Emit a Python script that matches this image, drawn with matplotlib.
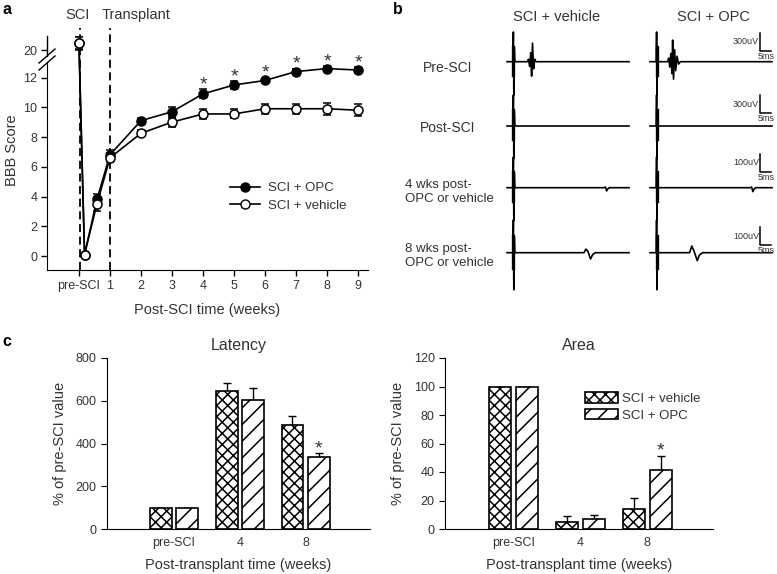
import numpy as np
import matplotlib
matplotlib.use('Agg')
import matplotlib.pyplot as plt
from matplotlib.lines import Line2D
from matplotlib.patches import Patch
from matplotlib.transforms import blended_transform_factory

plt.rcParams['font.family'] = ['Liberation Sans', 'DejaVu Sans']
plt.rcParams['hatch.linewidth'] = 1.1
TXT = '#333333'
plt.rcParams['text.color'] = TXT
plt.rcParams['axes.labelcolor'] = TXT
plt.rcParams['xtick.labelcolor'] = TXT
plt.rcParams['ytick.labelcolor'] = TXT

# ---- panel a : BBB score ----
bbb_weeks = [0, 0.18, 0.58, 1, 2, 3, 4, 5, 6, 7, 8, 9]
bbb_opc = [20.5, 0.1, 3.8, 6.8, 9.1, 9.7, 10.9, 11.5, 11.8, 12.4, 12.6, 12.5]
bbb_opc_err = [0.4, 0.1, 0.4, 0.3, 0.2, 0.35, 0.3, 0.25, 0.2, 0.2, 0.15, 0.2]
bbb_veh = [20.5, 0.1, 3.5, 6.6, 8.25, 9.0, 9.55, 9.55, 9.9, 9.9, 9.9, 9.8]
bbb_veh_err = [0.5, 0.1, 0.5, 0.3, 0.2, 0.3, 0.35, 0.3, 0.35, 0.35, 0.4, 0.4]
bbb_star_weeks = [4, 5, 6, 7, 8, 9]
bbb_xticks = [0, 1, 2, 3, 4, 5, 6, 7, 8, 9]
bbb_xticklabels = ['pre-SCI', '1', '2', '3', '4', '5', '6', '7', '8', '9']
bbb_yticks = [0, 2, 4, 6, 8, 10, 12, 20]
sci_week = 0.05
transplant_week = 1

# ---- panel c : latency / area ----
bar_groups = ['pre-SCI', '4', '8']
lat_veh = [100, 645, 488]
lat_veh_err = [0, 37, 42]
lat_opc = [100, 605, 335]
lat_opc_err = [0, 53, 20]
area_veh = [100, 5, 14]
area_veh_err = [0, 4, 8]
area_opc = [100, 7, 41.5]
area_opc_err = [0, 2.5, 10]
star_group = 2

# ---- panel b : example traces (ms, uV) ----
row_names = ['Pre-SCI', 'Post-SCI', '4 wks post-\nOPC or vehicle', '8 wks post-\nOPC or vehicle']
row_scale_uV = [300, 300, 100, 100]
stim_up_uV = [495, 517, 170, 182]
stim_down_uV = [-560, -540, -185, -206]
veh_resp = [
    ([9.3, 9.8, 10.3, 10.8, 11.2, 11.6, 12.1, 12.6, 13.2], [0, 40, -80, 150, -240, 310, -120, 40, 0]),
    ([], []),
    ([44.2, 44.8, 45.3, 45.9, 46.6], [0, 4, -18, -6, 0]),
    ([35.0, 35.9, 36.8, 38.0, 39.0, 40.2], [0, 20, 8, -35, -10, 0]),
]
opc_resp = [
    ([8.0, 8.5, 9.0, 9.5, 10.0, 10.3, 10.7, 11.2, 11.7, 12.3, 13.0, 13.8],
     [0, 60, -90, 140, -200, 360, -290, 200, -150, 90, -40, 0]),
    ([], []),
    ([45.6, 46.2, 46.8, 47.4, 48.1], [0, 4, -22, -6, 0]),
    ([18.0, 19.0, 20.0, 21.5, 22.5, 24.0], [0, 37, 10, -44, -12, 0]),
]
veh_stim_ms = 2.9
opc_stim_ms = 3.0
trace_len_ms = 55.5
scalebar_ms = 5
scalebar_base_uV = [185, 215, 90, 40]

W, H = 777, 574
fig = plt.figure(figsize=(W / 100, H / 100), dpi=100)


def px_rect(l, t, r, b):
    return [l / W, 1 - b / H, (r - l) / W, (b - t) / H]


# ================= panel a =================
BRK_LO, BRK_HI, BRK_TO = 13.0, 19.5, 13.32


def fwd(y):
    y = np.asarray(y, float)
    return np.where(y <= BRK_LO, y,
                    np.where(y >= BRK_HI, y - (BRK_HI - BRK_TO),
                             BRK_LO + (y - BRK_LO) * (BRK_TO - BRK_LO) / (BRK_HI - BRK_LO)))


def inv(u):
    u = np.asarray(u, float)
    return np.where(u <= BRK_LO, u,
                    np.where(u >= BRK_TO, u + (BRK_HI - BRK_TO),
                             BRK_LO + (u - BRK_LO) * (BRK_HI - BRK_LO) / (BRK_TO - BRK_LO)))


axa = fig.add_axes(px_rect(47, 36, 368, 270))
axa.set_yscale('function', functions=(fwd, inv))
axa.set_ylim(-0.94, 20.97)
axa.set_xlim(-1.03, 9.32)

for xv in (sci_week, transplant_week):
    axa.axvline(xv, ymin=0, ymax=1.034, color='k', lw=1.3, ls=(0, (4.5, 2.5)), clip_on=False, zorder=1)

axa.errorbar(bbb_weeks, bbb_opc, yerr=bbb_opc_err, fmt='-o', color='k', mfc='k', mec='k',
             ms=6.5, mew=1.1, lw=1.2, capsize=3, elinewidth=1, capthick=1, zorder=3,
             label='SCI + OPC')
axa.errorbar(bbb_weeks, bbb_veh, yerr=bbb_veh_err, fmt='-o', color='k', mfc='white', mec='k',
             ms=6.5, mew=1.1, lw=1.2, capsize=3, elinewidth=1, capthick=1, zorder=4,
             label='SCI + vehicle')

for w in bbb_star_weeks:
    i = bbb_weeks.index(w)
    axa.annotate('*', (w, bbb_opc[i] + bbb_opc_err[i]), xytext=(0, 0), textcoords='offset points',
                 ha='center', va='baseline', fontsize=14, color=TXT)

axa.set_xticks(bbb_xticks)
axa.set_xticklabels(bbb_xticklabels)
axa.set_yticks(bbb_yticks)
axa.tick_params(direction='out', length=4, width=1, labelsize=9, pad=3)
axa.spines['top'].set_visible(False)
axa.spines['right'].set_visible(False)
axa.spines['left'].set_bounds(-0.94, 12.98)
blend = blended_transform_factory(axa.transAxes, axa.transData)
axa.plot([0, 0], [19.62, 20.97], color='k', lw=1, transform=blend, clip_on=False)
for yc in (0.9145, 0.8846):
    axa.plot([-0.025, 0.025], [yc - 0.03, yc + 0.03], color='k', lw=1,
             transform=axa.transAxes, clip_on=False)
axa.set_xlabel('Post-SCI time (weeks)', fontsize=10.5, labelpad=8)
fig.text(12 / W, 1 - 150 / H, 'BBB Score', rotation=90, ha='center', va='center', fontsize=10.5)

h_opc = Line2D([], [], color='k', marker='o', mfc='k', mec='k', ms=6.5, lw=1.2)
h_veh = Line2D([], [], color='k', marker='o', mfc='white', mec='k', ms=6.5, lw=1.2)
axa.legend([h_opc, h_veh], ['SCI + OPC', 'SCI + vehicle'], loc='upper left',
           bbox_to_anchor=(0.57, 0.375), frameon=False, fontsize=9.5, handlelength=2.3,
           handletextpad=0.6, labelspacing=0.4, borderpad=0, borderaxespad=0)

fig.text(78 / W, 1 - 15 / H, 'SCI', ha='center', va='center', fontsize=10.5)
fig.text(102 / W, 1 - 15 / H, 'Transplant', ha='left', va='center', fontsize=10.5)

# ================= panel b =================
baselines_px = [61.7, 126, 187.7, 252.7]
half_px = 40
for r in range(4):
    upp = row_scale_uV[r] / 18.0
    for col, (left, stim, resp) in enumerate([(507, veh_stim_ms, veh_resp[r]),
                                                (650, opc_stim_ms, opc_resp[r])]):
        ax = fig.add_axes(px_rect(left, baselines_px[r] - half_px, left + 122, baselines_px[r] + half_px))
        ax.set_xlim(0, trace_len_ms)
        ax.set_ylim(-half_px * upp, half_px * upp)
        ax.axis('off')
        t = [0, stim - 0.2, stim, stim + 0.2, stim + 0.4, stim + 0.7] + resp[0] + [trace_len_ms]
        v = [0, 0, stim_up_uV[r], stim_down_uV[r], stim_up_uV[r] * 0.5, 0] + resp[1] + [0]
        ax.plot(t, v, color='k', lw=1.2, clip_on=False)
        ax.plot([stim, stim], [stim_up_uV[r] * 0.5, stim_down_uV[r] * 0.4], color='k', lw=2.4,
                clip_on=False)
        if col == 1:
            x0 = 50
            y0 = scalebar_base_uV[r]
            ax.plot([x0, x0, x0 + scalebar_ms], [y0 + row_scale_uV[r], y0, y0], color='k', lw=1.1,
                    clip_on=False)
            ax.text(x0 - 0.4, y0 + row_scale_uV[r] * 0.5, '%duV' % row_scale_uV[r], ha='right',
                    va='center', fontsize=6.5)
            ax.text(x0 + scalebar_ms * 0.6, y0 - 1 * upp, '5ms', ha='center', va='top', fontsize=6.5)

fig.text(557 / W, 1 - 17 / H, 'SCI + vehicle', ha='center', va='center', fontsize=10.5)
fig.text(713 / W, 1 - 17 / H, 'SCI + OPC', ha='center', va='center', fontsize=10.5)
label_y = [68, 128, 192, 256]
for r, name in enumerate(row_names):
    if '\n' in name:
        fig.text(405 / W, 1 - label_y[r] / H, name, ha='left', va='center', fontsize=9.5,
                 linespacing=1.3)
    else:
        fig.text(448 / W, 1 - label_y[r] / H, name, ha='center', va='center', fontsize=10)

# ================= panel c =================
xg = np.arange(len(bar_groups))


def bar_panel(rect, veh, veh_err, opc, opc_err, ymax, step, title):
    ax = fig.add_axes(rect)
    ax.bar(xg - 0.2, veh, 0.33, color='white', edgecolor='k', hatch='xxx', lw=1.2, zorder=2)
    ax.bar(xg + 0.2, opc, 0.33, color='white', edgecolor='k', hatch='//', lw=1.2, zorder=2)
    ax.errorbar(xg - 0.2, veh, yerr=[np.zeros(3), veh_err], fmt='none', ecolor='k', capsize=3,
                elinewidth=1, capthick=1, zorder=1)
    ax.errorbar(xg + 0.2, opc, yerr=[np.zeros(3), opc_err], fmt='none', ecolor='k', capsize=3,
                elinewidth=1, capthick=1, zorder=1)
    ax.annotate('*', (xg[star_group] + 0.2, opc[star_group] + opc_err[star_group]), xytext=(0, 0),
                textcoords='offset points', ha='center', va='baseline', fontsize=14, color=TXT)
    ax.set_xlim(-1.02, 2.98)
    ax.set_ylim(0, ymax)
    ax.set_yticks(np.arange(0, ymax + 1, step))
    ax.set_xticks(xg)
    ax.set_xticklabels(bar_groups)
    ax.tick_params(axis='y', direction='out', length=4, labelsize=9)
    ax.tick_params(axis='x', length=0, labelsize=9, pad=6)
    ax.spines['top'].set_visible(False)
    ax.spines['right'].set_visible(False)
    ax.set_xlabel('Post-transplant time (weeks)', fontsize=10.5, labelpad=6)
    ax.set_ylabel('% of pre-SCI value', fontsize=10.5, labelpad=6)
    ax.set_title(title, fontsize=11.5, pad=6, color=TXT)
    return ax


bar_panel(px_rect(107, 358, 370, 529), lat_veh, lat_veh_err, lat_opc, lat_opc_err, 800, 200, 'Latency')
axr = bar_panel(px_rect(445, 358, 713, 529), area_veh, area_veh_err, area_opc, area_opc_err, 120, 20, 'Area')
axr.legend([Patch(facecolor='white', edgecolor='k', hatch='xxx', lw=1.2),
            Patch(facecolor='white', edgecolor='k', hatch='//', lw=1.2)],
           ['SCI + vehicle', 'SCI + OPC'], loc='upper left', bbox_to_anchor=(0.522, 0.80),
           frameon=False, fontsize=9.5, handlelength=2.5, handleheight=0.9, handletextpad=0.3,
           labelspacing=0.25, borderpad=0, borderaxespad=0)

# panel letters
for x, y, s in [(7, 10, 'a'), (398, 10, 'b'), (7, 342, 'c')]:
    fig.text(x / W, 1 - y / H, s, ha='center', va='center', fontsize=11.5, fontweight='bold',
             color='k')

fig.savefig('out.png', dpi=100)
